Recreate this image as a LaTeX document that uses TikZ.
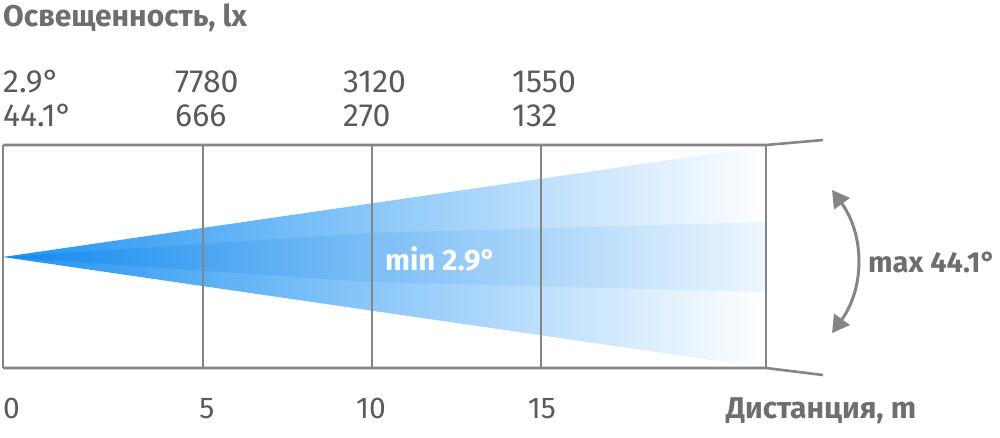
\documentclass[tikz,border=0pt]{standalone}
\usepackage{fontspec}
\setmainfont{Fira Sans}
\usetikzlibrary{arrows.meta}
\definecolor{framegray}{HTML}{858585}
\definecolor{textgray}{HTML}{5A5A5A}
\definecolor{headgray}{HTML}{6E6E6E}
\definecolor{beamblue}{HTML}{1E93F3}
\definecolor{beamcore}{HTML}{1289EE}
\begin{document}
\begin{tikzpicture}[x=1pt,y=-1pt,
  frame/.style={line width=2.6pt,draw=framegray},
  heading/.style={font=\fontsize{30}{32}\selectfont\bfseries,text=headgray,inner sep=0pt},
  val/.style={font=\fontsize{32}{34}\selectfont,text=textgray,inner sep=0pt,anchor=base west},
  dist/.style={font=\fontsize{30}{32}\selectfont,text=textgray,inner sep=0pt,anchor=base},
  arc/.style={line width=3pt,draw=framegray,{Triangle[length=17pt,width=19pt]}-{Triangle[length=17pt,width=19pt]}}]
  \useasboundingbox (0,0) rectangle (1000,437);
  % beam
  \shade[left color=beamblue,right color=white] (3,257)--(766,146)--(766,368)--cycle;
  \shade[left color=beamcore,right color=beamblue!8] (3,257)--(370,233)--(766,222)--(766,292)--(370,282)--cycle;
  % frame
  \draw[frame] (3,145)--(766,145)--(823,140);
  \draw[frame] (3,368)--(766,368)--(823,375);
  \draw[frame] (3,145)--(3,368);
  \foreach \x in {203,372,541,766}
    \draw[frame] (\x,145)--(\x,368);
  % labels
  \node[heading,anchor=base west] (lux) at (3,26) {Освещенность, lx};
  \node[val] (a1) at (3,92) {2.9°};
  \node[val] (a2) at (3,126) {44.1°};
  \node[val] (e1) at (175,92) {7780};
  \node[val] (e2) at (175,126) {666};
  \node[val] (f1) at (343,92) {3120};
  \node[val] (f2) at (343,126) {270};
  \node[val] (g1) at (512,92) {1550};
  \node[val] (g2) at (512,126) {132};
  \node[dist,anchor=base west] (d0) at (3,418) {0};
  \node[dist] (d5) at (207,418) {5};
  \node[dist] (d10) at (371,418) {10};
  \node[dist] (d15) at (542,418) {15};
  \node[heading,anchor=base west] (dst) at (726,418) {Дистанция, m};
  \node[heading,font=\fontsize{29.5}{32}\selectfont\bfseries,text=white,anchor=base west] (minb) at (385,270) {min 2.9°};
  \node[heading,font=\fontsize{29}{32}\selectfont\bfseries,anchor=base west] (maxb) at (868,272) {max 44.1°};
  % spread arrow
  \coordinate (atop) at (832,190);
  \coordinate (abot) at (832,333);
  \draw[arc] (atop) to[bend left=36] (abot);
\end{tikzpicture}
\end{document}
